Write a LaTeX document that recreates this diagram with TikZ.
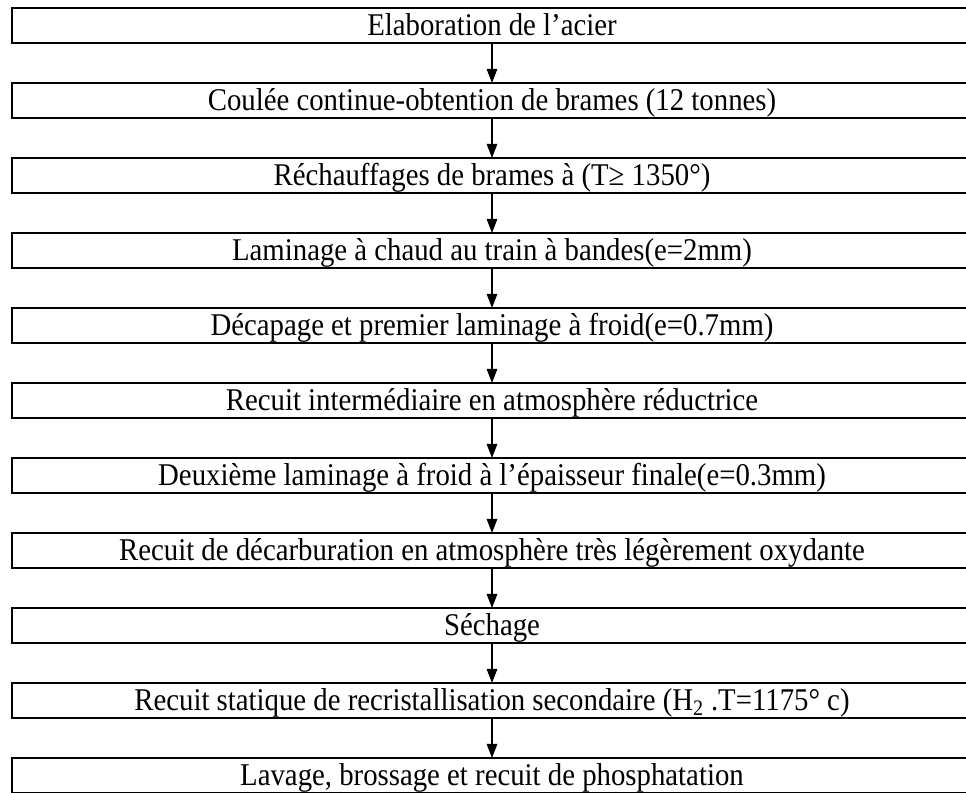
\documentclass[tikz,border=0pt]{standalone}
\usepackage{fontspec}
\setmainfont{Liberation Serif}[FakeStretch=0.91]
\usetikzlibrary{positioning, arrows.meta}

\begin{document}
\begin{tikzpicture}[
        node distance=1cm,
        every node/.style={draw, line width=1.3pt, minimum width=24cm, minimum height=0.875cm,
            inner sep=0pt, outer sep=0pt, text height=18pt, text depth=3.5pt,
            align=center, font=\fontsize{22.5}{25}\selectfont},
        flow/.style={line width=0.9pt, -{Triangle[width=7.5pt, length=10pt]}}
        ]
        \useasboundingbox (0,0) rectangle (24.15,-19.825);
        % Nodes
        \node (elab) at (12.3,-0.6375) {Elaboration de l'acier};
        \node (coulee) [below=of elab] {Coulée continue-obtention de brames (12 tonnes)};
        \node (rechauff) [below=of coulee] {Réchauffages de brames à (T≥ 1350°)};
        \node (lamchaud) [below=of rechauff] {Laminage à chaud au train à bandes(e=2mm)};
        \node (decap) [below=of lamchaud] {Décapage et premier laminage à froid(e=0.7mm)};
        \node (recuitint) [below=of decap] {Recuit intermédiaire en atmosphère réductrice};
        \node (lamfroid) [below=of recuitint] {Deuxième laminage à froid à l'épaisseur finale(e=0.3mm)};
        \node (decarb) [below=of lamfroid] {Recuit de décarburation en atmosphère très légèrement oxydante};
        \node (sechage) [below=of decarb] {Séchage};
        \node (recuitstat) [below=of sechage] {Recuit statique de recristallisation secondaire (H\textsubscript{2} .T=1175° c)};
        \node (lavage) [below=of recuitstat] {Lavage, brossage et recuit de phosphatation};

        % Arrows
        \draw[flow] (elab) -- (coulee);
        \draw[flow] (coulee) -- (rechauff);
        \draw[flow] (rechauff) -- (lamchaud);
        \draw[flow] (lamchaud) -- (decap);
        \draw[flow] (decap) -- (recuitint);
        \draw[flow] (recuitint) -- (lamfroid);
        \draw[flow] (lamfroid) -- (decarb);
        \draw[flow] (decarb) -- (sechage);
        \draw[flow] (sechage) -- (recuitstat);
        \draw[flow] (recuitstat) -- (lavage);
    \end{tikzpicture}
\end{document}
